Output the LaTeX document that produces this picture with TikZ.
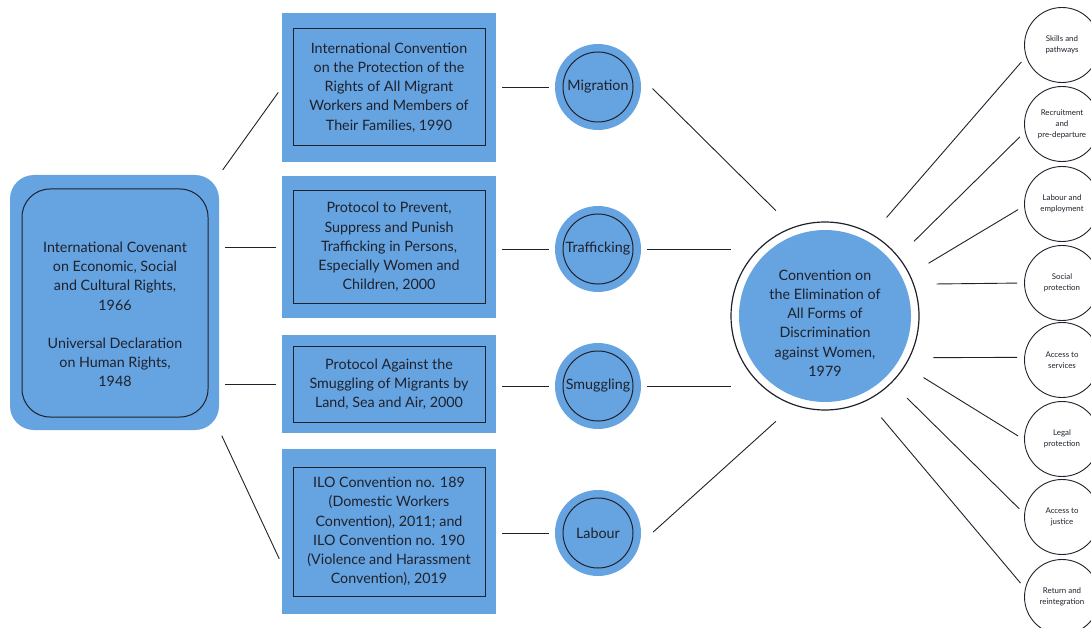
\documentclass[tikz,border=0pt]{standalone}
\usepackage{fontspec}
\setmainfont{Lato}
\usepackage{xcolor}

\definecolor{treatyblue}{RGB}{102,163,225}
\definecolor{inkc}{RGB}{30,34,44}

\tikzset{
  link/.style={draw=inkc, line width=0.9pt, shorten <=6pt, shorten >=6pt},
  bodytext/.style={text=inkc, align=center, font=\fontsize{14.3}{19.2}\selectfont},
  rootbox/.style={fill=treatyblue, rounded corners=24pt, minimum width=209pt, minimum height=255pt,
    path picture={\draw[inkc, line width=1pt, rounded corners=28pt] ([shift={(12pt,-14pt)}]path picture bounding box.north west) rectangle ([shift={(-11pt,13pt)}]path picture bounding box.south east);}},
  treatybox/.style n args={2}{bodytext, fill=treatyblue, minimum width=214pt, minimum height=#1,
    path picture={\draw[inkc, line width=1pt] ([shift={(11pt,-#2)}]path picture bounding box.north west) rectangle ([shift={(-11pt,#2)}]path picture bounding box.south east);}},
  topic/.style={bodytext, circle, fill=treatyblue, minimum size=86pt, inner sep=0pt,
    path picture={\draw[inkc, line width=1pt] (path picture bounding box.center) circle (35pt);}},
  area/.style={circle, draw=inkc, line width=0.9pt, fill=white, minimum size=75pt, inner sep=0pt,
    align=center, text=inkc, font=\fontsize{7.9}{11}\selectfont},
}

\begin{document}
\begin{tikzpicture}[x=1pt, y=-1pt]
\useasboundingbox (0,0) rectangle (1091,628);

% left: covenant and declaration
\node[rootbox] (covenant) at (114.5,302.5) {};
\node[bodytext] (covtext) at (115,314.5) {International Covenant\\on Economic, Social\\and Cultural Rights,\\1966\\[19.2pt]Universal Declaration\\on Human Rights,\\1948};

% treaties
\node[treatybox={149pt}{16pt}] (icrmw) at (389,87.5) {International Convention\\on the Protection of the\\Rights of All Migrant\\Workers and Members of\\Their Families, 1990};
\node[treatybox={142pt}{15pt}] (palermo) at (389,247) {Protocol to Prevent,\\Suppress and Punish\\Trafficking in Persons,\\Especially Women and\\Children, 2000};
\node[treatybox={98pt}{11pt}] (smugprot) at (389,384) {Protocol Against the\\Smuggling of Migrants by\\Land, Sea and Air, 2000};
\node[treatybox={165pt}{18pt}] (ilo) at (389,531.5) {ILO Convention no. 189\\(Domestic Workers\\Convention), 2011; and\\ILO Convention no. 190\\(Violence and Harassment\\Convention), 2019};

% topics
\node[topic] (mig) at (598,87) {Migration};
\node[topic] (traf) at (598,249) {Trafficking};
\node[topic] (smug) at (598,386) {Smuggling};
\node[topic] (lab) at (598,533) {Labour};

% CEDAW
\node[circle, minimum size=232pt, inner sep=0pt] (halo) at (825,316) {};
\node[circle, draw=inkc, line width=1.2pt, minimum size=188pt,
  path picture={\fill[treatyblue] (path picture bounding box.center) circle (86pt);}] (ring) at (825,316) {};
\node[bodytext] (cedaw) at (825,323) {Convention on\\the Elimination of\\All Forms of\\Discrimination\\against Women,\\1979};

% covenant to treaties
\draw[link] (covenant.north east) -- (icrmw.west);
\draw[link] (palermo.west -| covenant.east) -- (palermo.west);
\draw[link] (smugprot.west -| covenant.east) -- (smugprot.west);
\draw[link] (covenant.south east) -- (ilo.197);

% treaties to topics
\draw[link] (mig -| icrmw.east) -- (mig.west);
\draw[link] (traf -| palermo.east) -- (traf.west);
\draw[link] (smug -| smugprot.east) -- (smug.west);
\draw[link] (lab -| ilo.east) -- (lab.west);

% topics to CEDAW
\draw[link, shorten <=18pt, shorten >=0pt] (mig.15) -- (halo.115);
\draw[link, shorten >=0pt] (traf.east) -- (traf.east -| halo.144);
\draw[link, shorten >=0pt] (smug.east) -- (smug.east -| halo.216);
\draw[link, shorten <=18pt, shorten >=0pt] (lab.345) -- (halo.245);

% areas on the right
\foreach \nm/\yy/\aa/\bb/\txt in {
  r1/45/58/198/{Skills and\\pathways},
  r2/124/40/192/{Recruitment\\and\\pre-departure},
  r3/204/27/183/{Labour and\\employment},
  r4/283/16/180/{Social\\protection},
  r5/360/339/176/{Access to\\services},
  r6/439/328/181/{Legal\\protection},
  r7/517/315/175/{Access to\\justice},
  r8/597/299/167/{Return and\\reintegration}} {
  \node[area] (\nm) at (1062,\yy) {\txt};
  \draw[link, shorten <=0pt, shorten >=7pt] (halo.\aa) -- (\nm.\bb);
}
\end{tikzpicture}
\end{document}
